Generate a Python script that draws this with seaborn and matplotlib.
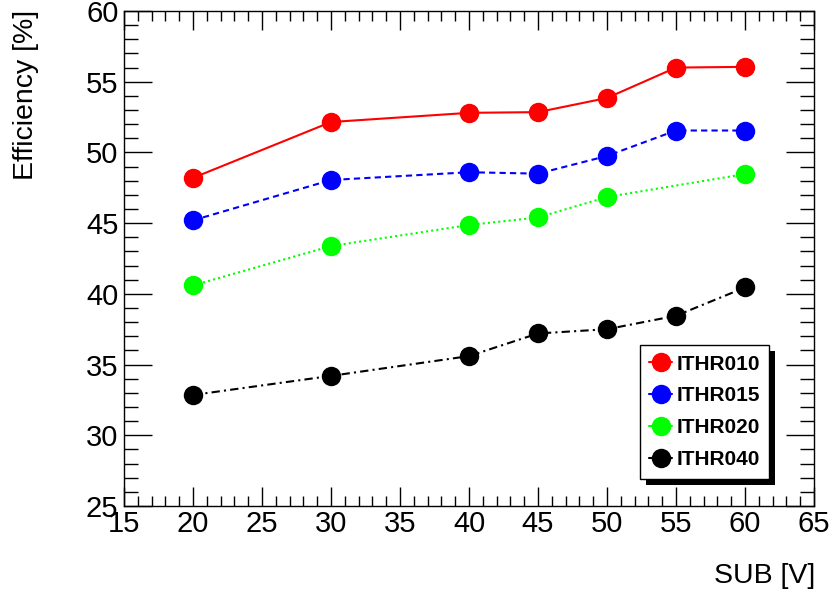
import matplotlib
matplotlib.use("Agg")
import matplotlib.pyplot as plt
import seaborn as sns
import pandas as pd
from matplotlib.ticker import MultipleLocator
from matplotlib.patches import Rectangle

sub_v = [20, 30, 40, 45, 50, 55, 60]
sub_v_020 = [20, 30, 40, 45, 50, 60]
ithr010 = [48.2, 52.15, 52.8, 52.85, 53.85, 56.0, 56.05]
ithr015 = [45.2, 48.05, 48.6, 48.5, 49.75, 51.55, 51.55]
ithr020 = [40.6, 43.38, 44.87, 45.4, 46.85, 48.47]
ithr040 = [32.85, 34.2, 35.6, 37.2, 37.5, 38.45, 40.45]
labels = ["ITHR010", "ITHR015", "ITHR020", "ITHR040"]
colors = ["#ff0000", "#0000ff", "#00ff00", "#000000"]
styles = ["-", (0, (3, 2)), (0, (1, 1.5)), (0, (4, 2, 1, 2))]

sns.set_theme(style="ticks")
plt.rcParams["font.family"] = ["Liberation Sans", "DejaVu Sans"]
plt.rcParams["text.color"] = "black"
plt.rcParams["xtick.color"] = "black"
plt.rcParams["ytick.color"] = "black"
plt.rcParams["xtick.labelcolor"] = "black"
plt.rcParams["ytick.labelcolor"] = "black"

fig = plt.figure(figsize=(8.32, 5.99), dpi=100)
ax = fig.add_axes([124/832, 1-506/599, 690/832, 495/599])

xs = [sub_v, sub_v, sub_v_020, sub_v]
series = [ithr010, ithr015, ithr020, ithr040]
for lab, x, vals, col, ls in zip(labels, xs, series, colors, styles):
    df = pd.DataFrame({"SUB": x, "eff": vals})
    sns.lineplot(data=df, x="SUB", y="eff", ax=ax, color=col, linestyle=ls,
                 linewidth=1.5, marker="o", markersize=14, markeredgewidth=0,
                 label=lab)

ax.set_xlim(15, 65)
ax.set_ylim(25, 60)
ax.xaxis.set_major_locator(MultipleLocator(5))
ax.xaxis.set_minor_locator(MultipleLocator(1))
ax.yaxis.set_major_locator(MultipleLocator(5))
ax.yaxis.set_minor_locator(MultipleLocator(1))
ax.tick_params(which="both", direction="in", top=True, right=True,
               labelsize=21, color="black", width=1, pad=4)
ax.tick_params(which="major", length=20)
ax.tick_params(which="minor", length=10)
ax.tick_params(axis="x", which="major", length=14, pad=3)
ax.tick_params(axis="x", which="minor", length=7)
for s in ax.spines.values():
    s.set_color("black")
    s.set_linewidth(1)
ax.set_xlabel("")
ax.set_ylabel("")
fig.text(815/832, 1-576/599, "SUB [V]", ha="right", va="center", fontsize=20.5)
fig.text(26/832, 1-10/599, "Efficiency [%]", ha="center", va="top",
         rotation=90, fontsize=20.5)

leg = ax.legend(loc="upper left", bbox_to_anchor=(0.748, 0.325),
                frameon=True, fancybox=False, edgecolor="black",
                facecolor="white", framealpha=1,
                prop={"weight": "bold", "size": 15}, handlelength=1.1,
                handletextpad=0.2, labelspacing=0.62, borderpad=0.45,
                borderaxespad=0)
leg.get_frame().set_linewidth(1)
leg.set_zorder(10)
for h in leg.legend_handles:
    h.set_linestyle("-")

fig.canvas.draw()
bb = leg.get_window_extent()
off = 6
shadow = Rectangle((bb.x0 + off, bb.y0 - off), bb.width, bb.height,
                   transform=None, facecolor="black", edgecolor="none",
                   zorder=9)
ax.add_artist(shadow)

fig.savefig("out.png", dpi=100)
